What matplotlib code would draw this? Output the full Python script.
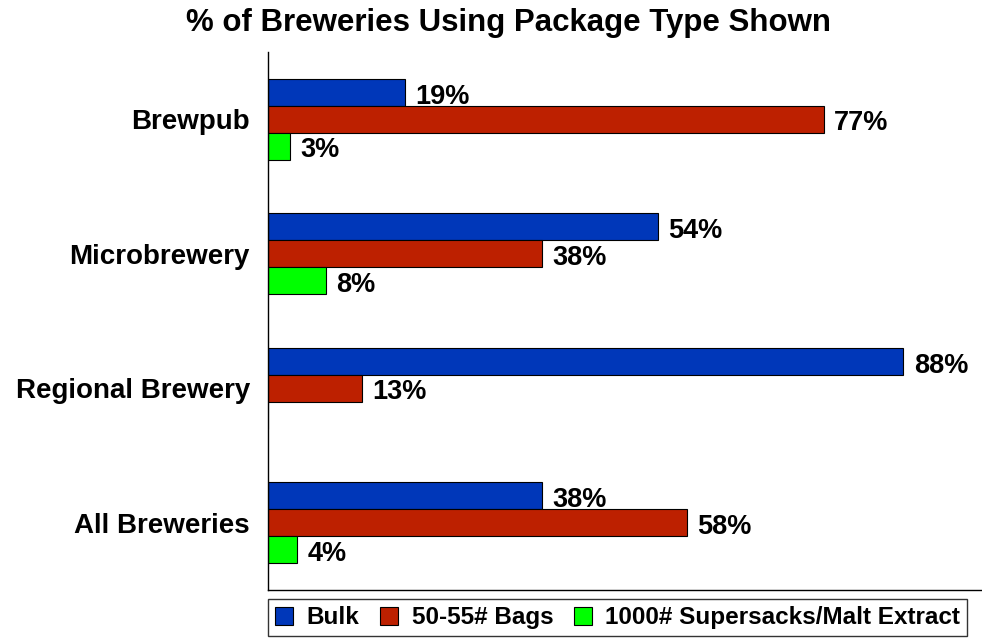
import matplotlib
matplotlib.use("Agg")
import matplotlib.pyplot as plt
import numpy as np

plt.rcParams['font.family'] = ['Liberation Sans', 'DejaVu Sans']
plt.rcParams['font.weight'] = 'bold'

categories = ["Brewpub", "Microbrewery", "Regional Brewery", "All Breweries"]
series_names = ["Bulk", "50-55# Bags", "1000# Supersacks/Malt Extract"]
bulk = [19, 54, 88, 38]
bags = [77, 38, 13, 58]
supersacks = [3, 8, 0, 4]
colors = ["#0037B9", "#BD2000", "#00FF00"]
title = "% of Breweries Using Package Type Shown"

fig = plt.figure(figsize=(9.82, 6.38), dpi=100)
ax = fig.add_axes([268/982, (638-590)/638, (982-268)/982, (590-52)/638])

y = np.arange(len(categories))
h = 0.2
for i, (vals, name, c) in enumerate(zip([bulk, bags, supersacks], series_names, colors)):
    pos = y + (i - 1) * h
    ax.barh(pos, vals, height=h, color=c, edgecolor='black', linewidth=0.8, label=name)
    for p, v in zip(pos, vals):
        if v > 0:
            ax.annotate(f"{v}%", xy=(v, p), xytext=(7.5, -3), textcoords='offset points',
                        va='center', ha='left', fontsize=19.5, fontweight='bold')

ax.set_ylim(len(categories) - 0.5, -0.5)
ax.set_xlim(0, 98.9)
ax.set_yticks(y)
ax.set_yticklabels(categories, fontsize=20, fontweight='bold')
ax.tick_params(axis='y', length=0, pad=13)
ax.set_xticks([])
ax.spines['top'].set_visible(False)
ax.spines['right'].set_visible(False)
for s in ['left', 'bottom']:
    ax.spines[s].set_linewidth(1.0)

fig.text(508/982, 1 - 23/638, title, ha='center', va='center', fontsize=22.5, fontweight='bold')

leg = fig.legend(loc='lower left', bbox_to_anchor=(268/982, 0.003), ncol=3,
                 fontsize=17.5, frameon=True, fancybox=False, edgecolor='black',
                 handlelength=0.75, handleheight=0.75, handletextpad=0.55,
                 columnspacing=0.85, borderpad=0.28, borderaxespad=0)
leg.get_frame().set_linewidth(1.0)
for t in leg.get_texts():
    t.set_fontweight('bold')

fig.savefig("out.png", dpi=100)
